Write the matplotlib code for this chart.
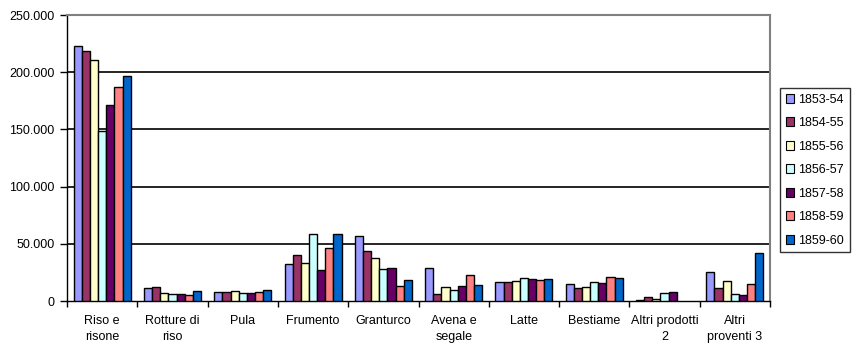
import numpy as np
import matplotlib
matplotlib.use("Agg")
import matplotlib.pyplot as plt
from matplotlib.ticker import FuncFormatter, FixedLocator
from matplotlib.patches import Patch

plt.rcParams['font.family'] = ['Liberation Sans', 'DejaVu Sans']

categories = ["Riso e\nrisone", "Rotture di\nriso", "Pula", "Frumento", "Granturco",
              "Avena e\nsegale", "Latte", "Bestiame", "Altri prodotti\n2", "Altri\nproventi 3"]
series_names = ["1853-54", "1854-55", "1855-56", "1856-57", "1857-58", "1858-59", "1859-60"]
colors = ["#9999FF", "#993366", "#FFFFCC", "#CCFFFF", "#660066", "#FF8080", "#0066CC"]

v1853 = [222700, 11100, 7600, 32100, 56600, 28600, 16300, 14600, 600, 25200]
v1854 = [218300, 12200, 7600, 39900, 43400, 5800, 16300, 11100, 3500, 11400]
v1855 = [210500, 6700, 8500, 32900, 37300, 12000, 17200, 12000, 1500, 17300]
v1856 = [148400, 5800, 6700, 58300, 27700, 9300, 19800, 16300, 6700, 5900]
v1857 = [171100, 5800, 6700, 26800, 28600, 12800, 18900, 15400, 7600, 5000]
v1858 = [186900, 5000, 7600, 46100, 12800, 22400, 18100, 20700, np.nan, 14700]
v1859 = [196500, 8500, 9300, 58300, 18100, 13700, 18900, 19800, np.nan, 41900]
values = [v1853, v1854, v1855, v1856, v1857, v1858, v1859]

yticks = [0, 50000, 100000, 150000, 200000, 250000]

fig = plt.figure(figsize=(8.52, 3.51), dpi=100)
ax = fig.add_axes([67/852, 1 - 301/351, (770-67)/852, (301-15)/351])

n = len(categories)
x = np.arange(n)
bw = 0.116
for i, (vals, c) in enumerate(zip(values, colors)):
    ax.bar(x - 3*bw + i*bw, vals, width=bw, color=c, edgecolor='black', linewidth=1.0,
           label=series_names[i], zorder=3)

ax.set_xlim(-0.5, n - 0.5)
ax.set_ylim(0, 250000)
ax.yaxis.set_major_locator(FixedLocator(yticks))
ax.yaxis.set_major_formatter(FuncFormatter(lambda v, p: f"{int(v):,}".replace(",", ".")))
for t in yticks[1:-1]:
    ax.axhline(t, color='black', linewidth=1.2, zorder=1)

ax.set_xticks(np.arange(n + 1) - 0.5, minor=False)
ax.set_xticklabels([])
ax.set_xticks(x, minor=True)
ax.set_xticklabels(categories, minor=True, fontsize=9, linespacing=1.45, va='top')
ax.tick_params(axis='x', which='minor', length=0, pad=10)
ax.tick_params(axis='x', which='major', length=4, width=1, color='black', direction='out')
ax.tick_params(axis='y', length=5, width=1, direction='out', labelsize=9, pad=4)

ax.spines['left'].set_color('black')
ax.spines['bottom'].set_color('black')
ax.spines['left'].set_linewidth(1.0)
ax.spines['bottom'].set_linewidth(1.0)
ax.spines['top'].set_color('#808080')
ax.spines['right'].set_color('#808080')
ax.spines['top'].set_linewidth(1.5)
ax.spines['right'].set_linewidth(1.5)

handles = [Patch(facecolor=c, edgecolor='black', linewidth=0.8) for c in colors]
leg = fig.legend(handles, series_names, loc='upper left',
                 bbox_to_anchor=(780/852, 1 - 88/351), fontsize=9,
                 frameon=True, fancybox=False, edgecolor='black',
                 handlelength=0.7, handleheight=0.7, handletextpad=0.3,
                 labelspacing=0.92, borderpad=0.45, borderaxespad=0)
leg.get_frame().set_linewidth(1.0)

fig.savefig("out.png", dpi=100)
